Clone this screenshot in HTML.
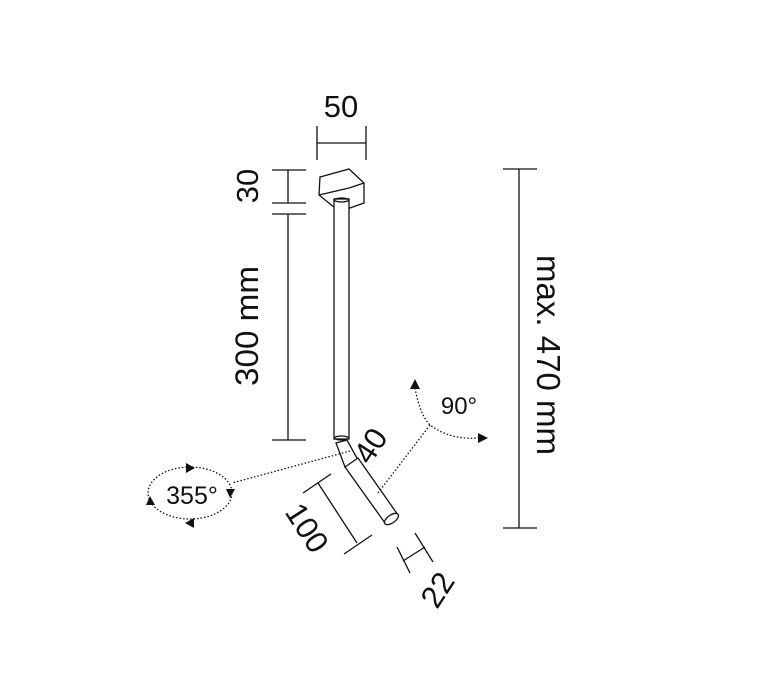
<!DOCTYPE html>
<html><head><meta charset="utf-8"><style>html,body{margin:0;padding:0;background:#fff}svg{display:block}</style></head>
<body>
<svg width="763" height="693" viewBox="0 0 763 693" xmlns="http://www.w3.org/2000/svg" font-family="Liberation Sans, Arial, sans-serif" fill="none" stroke="#111" stroke-width="1.3">
<!-- 50 dim -->
<line x1="317" y1="126" x2="317" y2="160"/><line x1="366" y1="126" x2="366" y2="160"/><line x1="317" y1="143" x2="366" y2="143"/>
<text x="341" y="117" font-size="31" fill="#111" stroke="none" text-anchor="middle">50</text>
<!-- canopy -->
<polygon points="320,177 349,169 364,183 364,203 350,208 335,208 319,195" fill="#fff"/>
<polyline points="319,195 349,188 364,183"/>
<!-- rod -->
<rect x="334" y="199" width="15" height="240" fill="#fff"/>
<ellipse cx="341.5" cy="200" rx="7" ry="2"/>
<ellipse cx="341.5" cy="438" rx="7" ry="2"/>
<!-- head -->
<polygon points="336,443 347,440 358,460 345,467" fill="#fff"/>
<polygon points="345,467 358,458 398,515 385,523" fill="#fff"/>
<ellipse cx="391.5" cy="519" rx="8" ry="4" transform="rotate(-35 391.5 519)" fill="#fff"/>
<!-- left dims -->
<line x1="288" y1="170" x2="288" y2="203"/><line x1="272" y1="170" x2="306" y2="170"/><line x1="272" y1="203" x2="306" y2="203"/>
<line x1="288" y1="214" x2="288" y2="440"/><line x1="272" y1="214" x2="306" y2="214"/><line x1="272" y1="440" x2="306" y2="440"/>
<text transform="translate(258 186) rotate(-90)" font-size="31" fill="#111" stroke="none" text-anchor="middle">30</text>
<text transform="translate(258 326) rotate(-90)" font-size="32" fill="#111" stroke="none" text-anchor="middle" textLength="120" lengthAdjust="spacingAndGlyphs">300 mm</text>
<!-- right dim -->
<line x1="519" y1="169" x2="519" y2="528"/><line x1="503" y1="169" x2="537" y2="169"/><line x1="503" y1="528" x2="537" y2="528"/>
<text transform="translate(537 355) rotate(90)" font-size="33" fill="#111" stroke="none" text-anchor="middle" textLength="200" lengthAdjust="spacingAndGlyphs">max. 470 mm</text>
<!-- 40 -->
<text transform="translate(370 466) rotate(-57)" font-size="31" fill="#111" stroke="none">40</text>
<!-- 100 dim -->
<line x1="318" y1="483" x2="357" y2="543"/>
<line x1="303" y1="493" x2="331" y2="474"/><line x1="344" y1="554" x2="372" y2="535"/>
<text transform="translate(284 512) rotate(57)" font-size="31" fill="#111" stroke="none">100</text>
<!-- 22 dim -->
<line x1="397" y1="547" x2="410" y2="573"/><line x1="415" y1="533" x2="433" y2="562"/><line x1="403" y1="561" x2="425" y2="547"/>
<text transform="translate(437 610) rotate(-57)" font-size="31" fill="#111" stroke="none">22</text>
<!-- dotted leaders -->
<g stroke-dasharray="1.5 2" stroke-width="1.3">
<line x1="350" y1="451" x2="232" y2="483"/>
<line x1="378" y1="493" x2="430" y2="425"/>
<path d="M415 388 Q420 415 430 425 Q450 440 478 438"/>
<ellipse cx="190" cy="493" rx="42" ry="26"/>
</g>
<g fill="#111" stroke="none">
<polygon points="415,379 410,389 420,389"/>
<polygon points="488,438 478,433 478,443"/>
<polygon points="195,468 186,463 186,473"/>
<polygon points="185,523 194,518 194,528"/>
<polygon points="150,496 146,505 155,505"/>
<polygon points="230,498 226,489 235,489"/>
</g>
<text x="459" y="414" font-size="24" fill="#111" stroke="none" text-anchor="middle">90°</text>
<text x="192" y="504" font-size="25" fill="#111" stroke="none" text-anchor="middle">355°</text>
</svg>
</body></html>
